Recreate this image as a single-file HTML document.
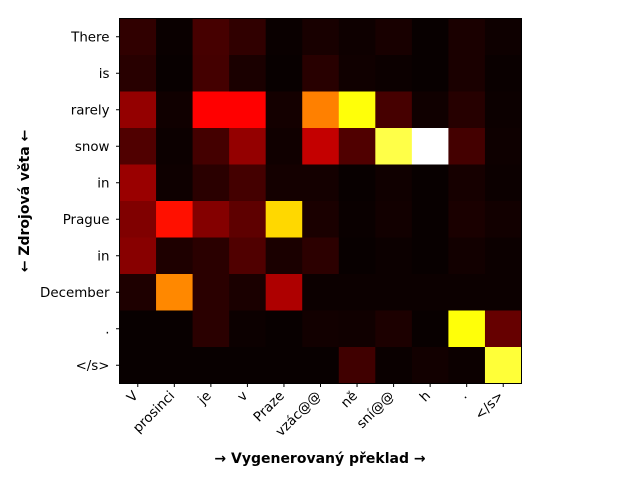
<!DOCTYPE html>
<html><head><meta charset="utf-8"><style>
body{margin:0;background:#fff}
svg{display:block;font-family:"DejaVu Sans","Liberation Sans",sans-serif}
</style></head><body>
<svg id="chart" width="640" height="480" viewBox="0 0 640 480" xmlns="http://www.w3.org/2000/svg">
<g id="cells"></g>
<g id="xt"></g>
<g id="yt"></g>
<rect x="119.5" y="18.5" width="402" height="365" fill="none" stroke="#000" stroke-width="1"/>
<text x="320" y="463" text-anchor="middle" font-size="14" font-weight="bold">→ Vygenerovaný překlad →</text>
<text transform="translate(29,201) rotate(-90)" text-anchor="middle" font-size="14" font-weight="bold">← Zdrojová věta ←</text>
</svg>
<script>
const xLabels = ["V","prosinci","je","v","Praze","vzác@@","ně","sní@@","h",".","</s>"];
const yLabels = ["There","is","rarely","snow","in","Prague","in","December",".","</s>"];
const rowThere = [.069,.014,.10,.069,.014,.034,.02,.034,.011,.037,.02];
const rowIs = [.057,.011,.097,.037,.011,.057,.023,.017,.011,.037,.014];
const rowRarely = [.212,.023,.365,.365,.029,.553,.755,.10,.023,.054,.017];
const rowSnow = [.114,.017,.097,.212,.023,.28,.114,.818,1,.097,.02];
const rowIn1 = [.22,.02,.06,.097,.029,.029,.011,.023,.011,.031,.017];
const rowPrague = [.183,.389,.189,.134,.683,.037,.014,.026,.011,.037,.026];
const rowIn2 = [.195,.043,.06,.114,.037,.063,.011,.017,.011,.026,.017];
const rowDecember = [.043,.565,.06,.037,.249,.017,.017,.017,.017,.017,.017];
const rowDot = [.011,.011,.06,.017,.011,.026,.023,.04,.011,.755,.146];
const rowEos = [.011,.011,.011,.011,.011,.011,.091,.014,.026,.017,.802];
const values = [rowThere,rowIs,rowRarely,rowSnow,rowIn1,rowPrague,rowIn2,rowDecember,rowDot,rowEos];

const NS="http://www.w3.org/2000/svg";
const L=119.5,T=18.5,W=402,H=365;
const cw=W/xLabels.length, ch=H/yLabels.length;
const xPos=i=>L+i*cw, yPos=j=>T+j*ch;
function hot(v){
  const c=x=>Math.max(0,Math.min(1,x));
  const r=c(v/0.365),g=c((v-0.365)/0.376),b=c((v-0.746)/0.254);
  return `rgb(${Math.round(r*255)},${Math.round(g*255)},${Math.round(b*255)})`;
}
const cells=document.getElementById('cells');
values.forEach((row,j)=>row.forEach((v,i)=>{
  const r=document.createElementNS(NS,'rect');
  
  
  r.setAttribute('x',xPos(i));r.setAttribute('y',yPos(j));
  r.setAttribute('width',cw+0.5);r.setAttribute('height',ch+0.5);
  r.setAttribute('fill',hot(v));
  cells.appendChild(r);
}));
const xt=document.getElementById('xt');
xLabels.forEach((s,i)=>{
  const x=xPos(i)+cw/2;
  const l=document.createElementNS(NS,'line');
  
  
  l.setAttribute('x1',x);l.setAttribute('x2',x);l.setAttribute('y1',T+H);l.setAttribute('y2',T+H+3.5);
  l.setAttribute('stroke','#000');xt.appendChild(l);
  const t=document.createElementNS(NS,'text');
  
  
  t.setAttribute('transform',`translate(${x+1},${T+H+13}) rotate(-45)`);
  t.setAttribute('text-anchor','end');t.setAttribute('font-size','13.4');
  t.textContent=s;xt.appendChild(t);
});
const yt=document.getElementById('yt');
yLabels.forEach((s,j)=>{
  const y=yPos(j)+ch/2;
  const l=document.createElementNS(NS,'line');
  
  
  l.setAttribute('x1',L-3.5);l.setAttribute('x2',L);l.setAttribute('y1',y);l.setAttribute('y2',y);
  l.setAttribute('stroke','#000');yt.appendChild(l);
  const t=document.createElementNS(NS,'text');
  
  
  t.setAttribute('x',L-10);t.setAttribute('y',y+4.8);
  t.setAttribute('text-anchor','end');t.setAttribute('font-size','13.4');
  t.textContent=s;yt.appendChild(t);
});
</script>
</body></html>
